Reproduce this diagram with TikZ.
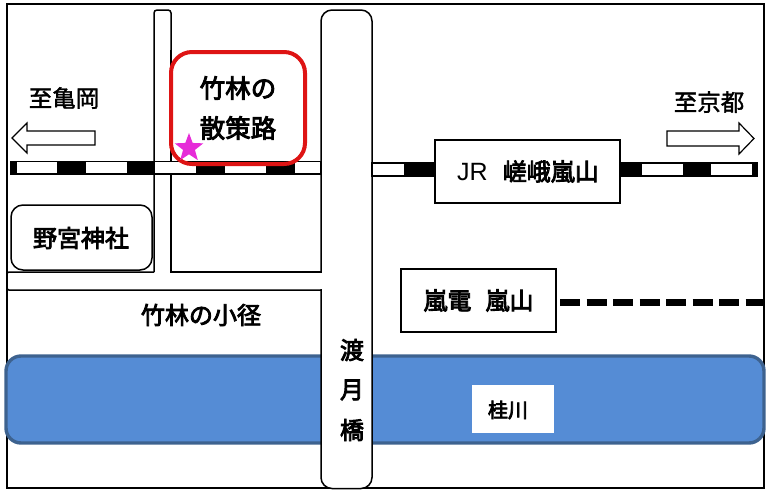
\documentclass[tikz,border=0pt]{standalone}
\usepackage{fontspec}
\newfontfamily\jpfont[FakeBold=1.5]{Noto Sans CJK JP}
\newfontfamily\jpbold[FakeBold=3.5]{Noto Sans CJK JP}
\setsansfont{Liberation Sans}
\usetikzlibrary{shapes.geometric}
\definecolor{riverblue}{HTML}{558CD5}
\definecolor{riveredge}{HTML}{3D628F}
\definecolor{spotred}{HTML}{DE1414}
\definecolor{starpink}{HTML}{E62BD8}
\begin{document}
\begin{tikzpicture}[x=1pt,y=-1pt,
  label/.style={font=\jpfont\fontsize{23.5}{24}\selectfont,inner sep=0pt},
  boldlabel/.style={font=\jpbold\fontsize{24}{24}\selectfont,inner sep=0pt},
  spotlabel/.style={font=\jpbold\fontsize{25.5}{26}\selectfont,inner sep=0pt},
  roadline/.style={line width=1.5pt},
  stationbox/.style={draw,line width=2pt,fill=white,inner sep=0pt,outer sep=0pt},
  tie/.style={fill=black},
  rail/.style={draw,fill=white,line width=1.3pt},
  sign/.style={draw,fill=white,line width=1.2pt}]
\useasboundingbox (0,0) rectangle (772,498);
%\draw[help lines] (0,0) grid[step=50pt] (772,498);
\draw[line width=2pt] (6.5,4) rectangle (764,488);
\draw[line width=3.4pt,draw=riveredge,fill=riverblue,rounded corners=15pt] (6,356) rectangle (764,443);
% roads
\draw[roadline,fill=white,rounded corners=11pt] (321,10) rectangle (372,488.5);
\draw[roadline,rounded corners=3pt] (154,272) -- (154,10) -- (171,10) -- (171,50);
\draw[roadline] (171,50) -- (171,272) -- (321,272);
\draw[roadline,rounded corners=2pt] (154,272) -- (7,272) -- (7,290) -- (321,290);
\fill[white] (319,273) rectangle (323,289);
% railway
\draw[rail] (11,161.5) rectangle (321,174);
\draw[rail] (372,163) rectangle (440,176);
\draw[rail] (615,163) rectangle (757,176);
\fill[tie] (11,161) rectangle (17,174.5);
\fill[tie] (57,161) rectangle (86,174.5);
\fill[tie] (127,161) rectangle (155,174.5);
\fill[tie] (196,161) rectangle (225,174.5);
\fill[tie] (266,161) rectangle (295,174.5);
\fill[tie] (404,162.5) rectangle (434,176.5);
\fill[tie] (620,162.5) rectangle (642,176.5);
\fill[tie] (683,162.5) rectangle (711,176.5);
\fill[tie] (752,162.5) rectangle (758,176.5);
% arrows
\draw[sign] (95,131) -- (27,131) -- (27,123) -- (12,138) -- (27,153) -- (27,145) -- (95,145) -- cycle;
\draw[sign] (667,131) -- (739,131) -- (739,123) -- (754,138.5) -- (739,154) -- (739,146) -- (667,146) -- cycle;
% places
\node[draw=spotred,line width=4pt,rounded corners=21pt,fill=none,minimum width=134pt,minimum height=112pt,outer sep=0pt] (spot) at (238,108) {};
\node[spotlabel] (spotA) at (238,88) {竹林の};
\node[spotlabel] (spotB) at (238,128) {散策路};
\node[star,star points=5,star point ratio=2.4,fill=starpink,inner sep=0pt,minimum size=30pt] (here) at (189,148) {};
\node[draw,line width=1.5pt,rounded corners=12pt,minimum width=141pt,minimum height=65pt,outer sep=0pt] (shrine) at (81.5,237.5) {};
\node[boldlabel] (shrineText) at (81,238) {野宮神社};
\node[label] (kameoka) at (64,98) {至亀岡};
\node[label] (kyoto) at (709,102) {至京都};
\node[stationbox,minimum width=185pt,minimum height=63pt,font=\jpbold\fontsize{24}{24}\selectfont] (jr) at (527.5,171.5) {\hspace{1pt}{\sffamily\fontsize{25}{25}\selectfont JR}\hspace{15pt}嵯峨嵐山};
\node[stationbox,minimum width=155pt,minimum height=63pt,font=\jpbold\fontsize{24}{24}\selectfont] (randen) at (478.5,300.5) {嵐電\hspace{14pt}嵐山};
\coordinate (randenEnd) at (764,302.5);
\draw[line width=6.5pt,dash pattern=on 20pt off 6.5pt] ([xshift=4pt,yshift=-2pt]randen.east) -- (randenEnd);
\node[boldlabel] (path) at (201,315) {竹林の小径};
\node[boldlabel] (bridgeA) at (352,350) {渡};
\node[boldlabel] (bridgeB) at (352,390) {月};
\node[boldlabel] (bridgeC) at (352,430) {橋};
\node[fill=white,minimum width=82pt,minimum height=48pt,inner sep=0pt] (riverBox) at (513,409) {};
\node[boldlabel,font=\jpbold\fontsize{20}{20}\selectfont] (river) at (508,410) {桂川};
\end{tikzpicture}
\end{document}
